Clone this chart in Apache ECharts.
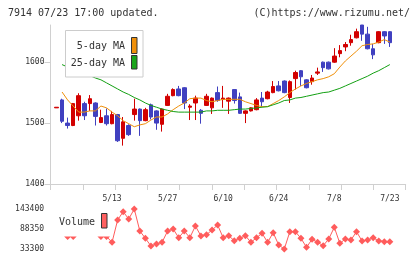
<!DOCTYPE html>
<html><head><meta charset="utf-8">
<script src="https://cdn.jsdelivr.net/npm/echarts@6/dist/echarts.min.js"></script>
<style>html,body{margin:0;padding:0;background:#fff}#c{width:420px;height:259px}</style>
</head><body><div id="c"></div>
<script>
const dates = ['4/24','4/25','4/26','4/30','5/1','5/2','5/7','5/8','5/9','5/10',
  '5/13','5/14','5/15','5/16','5/17','5/20','5/21','5/22','5/23','5/24',
  '5/27','5/28','5/29','5/30','5/31','6/3','6/4','6/5','6/6','6/7',
  '6/10','6/11','6/12','6/13','6/14','6/17','6/18','6/19','6/20','6/21',
  '6/24','6/25','6/26','6/27','6/28','7/1','7/2','7/3','7/4','7/5',
  '7/8','7/9','7/10','7/11','7/12','7/16','7/17','7/18','7/19','7/22','7/23'];
const shownLabels = ['5/13','5/27','6/10','6/24','7/8','7/23'];
const opens  = [1525,1538,1500,1496,1512,1532,1532,1533,1501,1512,
  1499,1514,1475,1496,1514,1523,1504,1530,1520,1498,
  1529,1545,1556,1558,1526,1533,1521,1529,1525,1550,
  1539,1536,1555,1543,1516,1520,1522,1541,1540,1550,
  1561,1569,1542,1573,1586,1571,1568,1582,1600,1600,
  1600,1614,1625,1632,1640,1661,1646,1622,1632,1650,1650];
const closes = [1526,1503,1496,1532,1545,1512,1540,1511,1509,1499,
  1514,1471,1502,1481,1523,1504,1522,1510,1500,1523,
  1544,1555,1545,1533,1528,1541,1516,1544,1541,1537,
  1541,1541,1537,1516,1520,1525,1538,1535,1551,1560,
  1553,1550,1568,1583,1576,1558,1574,1584,1591,1589,
  1610,1619,1629,1637,1650,1646,1622,1612,1650,1643,1632];
const lows   = [1525,1500,1491,1495,1504,1505,1520,1496,1500,1496,
  1498,1469,1463,1479,1504,1479,1503,1506,1489,1486,
  1528,1544,1544,1523,1505,1505,1499,1528,1515,1535,
  1525,1515,1532,1515,1500,1519,1521,1528,1539,1549,
  1552,1549,1533,1555,1561,1557,1563,1579,1584,1588,
  1599,1608,1618,1627,1639,1635,1621,1605,1631,1630,1625];
const highs  = [1526,1540,1509,1533,1549,1535,1546,1534,1522,1524,
  1520,1515,1510,1498,1540,1524,1525,1532,1521,1524,
  1548,1557,1561,1559,1531,1545,1523,1548,1542,1560,
  1561,1542,1555,1550,1521,1526,1541,1551,1553,1569,
  1569,1570,1570,1586,1587,1572,1579,1591,1601,1601,
  1623,1628,1633,1645,1655,1661,1658,1630,1651,1651,1651];
const ma5 = [null,1551,1538,1528,1518,1518,1520,1520,1528,1525,
  1518,1512,1504,1499,1494,1497,1499,1505,1510,1510,
  1515,1522,1528,1533,1540,1541,1541,1537,1535,1537,
  1539,1539,1539,1539,1535,1532,1529,1527,1527,1532,
  1537,1543,1550,1556,1561,1565,1568,1571,1573,1576,
  1581,1592,1602,1610,1618,1627,1629,1630,1633,1637,1633];
const ma25 = [null,1596,1592,1589,1586,1582,1578,1574,1571,1566,
  1561,1556,1551,1547,1542,1538,1533,1529,1526,1523,
  1521,1519,1518,1518,1518,1518,1518,1520,1520,1521,
  1521,1521,1522,1523,1523,1524,1525,1526,1527,1530,
  1533,1537,1538,1541,1542,1544,1546,1548,1550,1551,
  1554,1557,1561,1565,1569,1573,1577,1582,1586,1591,1596];
const volume = [95000,90000,67700,67700,100000,110000,95000,90000,67700,67700,
  51700,113100,136000,115900,143400,82800,62800,41600,47100,51700,
  82800,88350,64400,82800,64400,96600,69100,72700,85600,99400,
  64400,69900,56100,62800,69900,51700,64400,76500,51700,78200,
  44300,33300,80900,80900,62800,38000,60000,51700,42400,60800,
  93000,49000,60800,58100,80900,55300,58100,64400,55300,53400,53400];
const priceTicks = [1400,1500,1600];
const volumeTicks = [33300,88350,143400];

const RED = '#d20000', BLUE = '#4040c0', ORANGE = '#f0900a', GREEN = '#12a012', VOL = '#ff5c5c';
const MONO = '"DejaVu Sans Mono", monospace';
const AXC = '#d0d0d0';

const chart = echarts.init(document.getElementById('c'), null, {renderer: 'canvas'});
const candleData = dates.map((d, i) => [opens[i], closes[i], lows[i], highs[i]]);
const plain = v => String(v);

chart.setOption({
  animation: false,
  backgroundColor: '#fff',
  grid: [
    {left: 53.72, top: 25, width: 338.9, height: 159},
    {left: 50.5, top: 25, width: 355.2, height: 159},
    {left: 53.72, top: 209, width: 338.9, height: 40}
  ],
  xAxis: [
    {gridIndex: 0, type: 'category', data: dates, boundaryGap: true,
     axisLine: {show: false}, axisTick: {show: false}, splitLine: {show: false},
     axisLabel: {interval: (idx, val) => shownLabels.includes(val), fontSize: 8, margin: 11,
       color: '#333', fontFamily: MONO}},
    {gridIndex: 1, type: 'value', min: 0, max: 11, interval: 1,
     axisLine: {show: true, lineStyle: {color: AXC, width: 1}},
     axisTick: {show: true, length: 6, lineStyle: {color: AXC}},
     axisLabel: {show: false}, splitLine: {show: false}},
    {gridIndex: 2, type: 'category', data: dates, boundaryGap: true, show: false}
  ],
  yAxis: [
    {gridIndex: 0, type: 'value', min: 1400, max: 1661, show: false, splitLine: {show: false}},
    {gridIndex: 1, type: 'value', min: 1400, max: 1661,
     axisLine: {show: true, lineStyle: {color: AXC, width: 1}},
     axisTick: {show: true, length: 6, customValues: priceTicks, lineStyle: {color: AXC}},
     axisLabel: {customValues: priceTicks, formatter: plain, fontSize: 8, margin: 6, color: '#333', fontFamily: MONO},
     splitLine: {show: false}},
    {gridIndex: 2, type: 'value', min: 33300, max: 143400,
     axisLine: {show: false}, axisTick: {show: false},
     axisLabel: {customValues: volumeTicks, formatter: plain, fontSize: 8, margin: 9.7, color: '#333', fontFamily: MONO},
     splitLine: {show: false}}
  ],
  series: [
    {type: 'line', xAxisIndex: 1, yAxisIndex: 1, data: []},
    {type: 'candlestick', xAxisIndex: 0, yAxisIndex: 0, data: candleData, barWidth: 4,
     itemStyle: {color: RED, color0: BLUE, borderColor: RED, borderColor0: BLUE, borderWidth: 1}},
    {type: 'line', xAxisIndex: 0, yAxisIndex: 0, data: ma5, showSymbol: false, symbol: 'none',
     lineStyle: {color: ORANGE, width: 1}, z: 3},
    {type: 'line', xAxisIndex: 0, yAxisIndex: 0, data: ma25, showSymbol: false, symbol: 'none',
     lineStyle: {color: GREEN, width: 1}, z: 3},
    {type: 'line', xAxisIndex: 2, yAxisIndex: 2, data: volume, symbol: 'diamond', symbolSize: 7,
     showAllSymbol: true, itemStyle: {color: VOL}, lineStyle: {color: VOL, width: 1}}
  ],
  graphic: {elements: [
    {type: 'text', x: 8, y: 13, z: 100, style: {text: '7914 07/23 17:00 updated.', font: '10px ' + MONO, fill: '#333', textVerticalAlign: 'middle'}},
    {type: 'text', x: 410, y: 13, z: 100, style: {text: '(C)https://www.rizumu.net/', font: '10px ' + MONO, fill: '#333', textAlign: 'right', textVerticalAlign: 'middle'}},
    {type: 'rect', z: 100, shape: {x: 65.5, y: 30.5, width: 77.5, height: 46.5}, style: {fill: '#fff', stroke: '#ccc', lineWidth: 1}},
    {type: 'text', x: 125, y: 46, z: 101, style: {text: '5-day MA', font: '10px ' + MONO, fill: '#333', textAlign: 'right', textVerticalAlign: 'middle'}},
    {type: 'text', x: 125, y: 63.5, z: 101, style: {text: '25-day MA', font: '10px ' + MONO, fill: '#333', textAlign: 'right', textVerticalAlign: 'middle'}},
    {type: 'rect', z: 101, shape: {x: 131.5, y: 37.5, width: 5.5, height: 16}, style: {fill: ORANGE, stroke: '#333', lineWidth: 1}},
    {type: 'rect', z: 101, shape: {x: 131.5, y: 55.5, width: 5.5, height: 13.5}, style: {fill: '#1aa51a', stroke: '#333', lineWidth: 1}},
    {type: 'rect', z: 100, shape: {x: 53, y: 203, width: 57, height: 33.5}, style: {fill: '#fff'}},
    {type: 'text', x: 59, y: 222, z: 101, style: {text: 'Volume', font: '10px ' + MONO, fill: '#333', textVerticalAlign: 'middle'}},
    {type: 'rect', z: 101, shape: {x: 101.5, y: 213.5, width: 5.5, height: 14.5}, style: {fill: '#ff6060', stroke: '#333', lineWidth: 1}}
  ]}
});
</script></body></html>
